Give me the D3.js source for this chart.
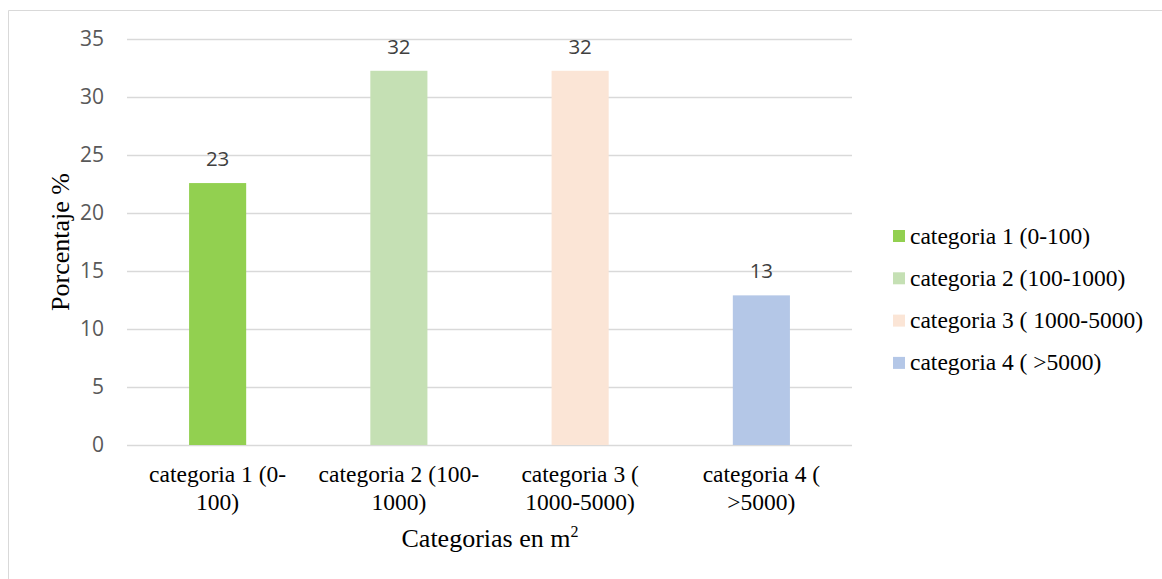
<!DOCTYPE html>
<html>
<head>
<meta charset="utf-8">
<script src="https://cdn.jsdelivr.net/npm/d3@7"></script>
<style>
  html, body { margin: 0; padding: 0; background: #fff; }
  svg { display: block; }
</style>
</head>
<body>
<svg id="chart" width="1162" height="579"></svg>
<script>
// Share of plots per surface category (%)
const categories = ["categoria 1 (0-100)", "categoria 2 (100-1000)", "categoria 3 ( 1000-5000)", "categoria 4 ( >5000)"];
const axisLabels = [["categoria 1 (0-", "100)"], ["categoria 2 (100-", "1000)"], ["categoria 3 (", "1000-5000)"], ["categoria 4 (", ">5000)"]];
const values = [22.58, 32.26, 32.26, 12.90];
const colors = ["#92D050", "#C5E0B4", "#FBE5D6", "#B4C7E7"];
const yTicks = [0, 5, 10, 15, 20, 25, 30, 35];

const svg = d3.select("#chart");
const plot = { left: 127, right: 852, top: 39, bottom: 445 };

// Chart frame
svg.append("path")
  .attr("d", "M8.5,579 V10.5 H1162")
  .attr("fill", "none").attr("stroke", "#D9D9D9").attr("stroke-width", 1);

const x = d3.scaleBand().domain(categories).range([plot.left, plot.right]).padding(0);
const y = d3.scaleLinear().domain([0, 35]).range([plot.bottom, plot.top]);
const barW = x.bandwidth() * 0.315;

const sans = "'Open Sans', 'Noto Sans', sans-serif";
const serif = "'Liberation Serif', 'Times New Roman', serif";

// Gridlines and y tick labels
const yAxis = d3.axisLeft(y).tickValues(yTicks).tickSize(-(plot.right - plot.left)).tickPadding(23).tickFormat(d3.format("d"));
const gy = svg.append("g").attr("transform", `translate(${plot.left},0)`).call(yAxis);
gy.select(".domain").remove();
gy.selectAll(".tick line").attr("stroke", "#D9D9D9").attr("stroke-width", 1.5);
gy.selectAll(".tick text")
  .attr("fill", "#595959")
  .style("font-family", sans)
  .style("font-size", "21px");

// Bars
svg.append("g").selectAll("rect").data(values).join("rect")
  .attr("x", (d, i) => x(categories[i]) + (x.bandwidth() - barW) / 2)
  .attr("y", d => y(d))
  .attr("width", barW)
  .attr("height", d => y(0) - y(d))
  .attr("fill", (d, i) => colors[i]);

// Value labels
svg.append("g").selectAll("text").data(values).join("text")
  .attr("x", (d, i) => x(categories[i]) + x.bandwidth() / 2)
  .attr("y", d => y(d) - 17)
  .attr("text-anchor", "middle")
  .attr("fill", "#404040")
  .style("font-family", sans)
  .style("font-size", "20.5px")
  .text(d => d3.format(".0f")(d));

// Category labels (two lines)
const xl = svg.append("g").selectAll("text").data(axisLabels).join("text")
  .attr("text-anchor", "middle")
  .attr("fill", "#000")
  .style("font-family", serif)
  .style("font-size", "23.5px");
xl.selectAll("tspan").data((d, i) => d.map(s => ({ s, i }))).join("tspan")
  .attr("x", d => x(categories[d.i]) + x.bandwidth() / 2)
  .attr("y", (d, j) => 482 + j * 28)
  .text(d => d.s);

// Axis titles
const xt = svg.append("text")
  .attr("x", 490).attr("y", 547)
  .attr("text-anchor", "middle")
  .style("font-family", serif).style("font-size", "26px");
xt.append("tspan").text("Categorias en m");
xt.append("tspan").attr("dy", -10).style("font-size", "16px").text("2");

svg.append("text")
  .attr("transform", `translate(69,${(plot.top + plot.bottom) / 2}) rotate(-90)`)
  .attr("text-anchor", "middle")
  .style("font-family", serif).style("font-size", "26px")
  .text("Porcentaje %");

// Legend
const legend = svg.append("g").selectAll("g").data(categories).join("g")
  .attr("transform", (d, i) => `translate(893,${236 + i * 42.3})`);
legend.append("rect").attr("x", 0).attr("y", -6).attr("width", 12).attr("height", 12)
  .attr("fill", (d, i) => colors[i]);
legend.append("text").attr("x", 17).attr("y", 7.5)
  .style("font-family", serif).style("font-size", "23.5px").attr("fill", "#000")
  .text(d => d);
</script>
</body>
</html>
